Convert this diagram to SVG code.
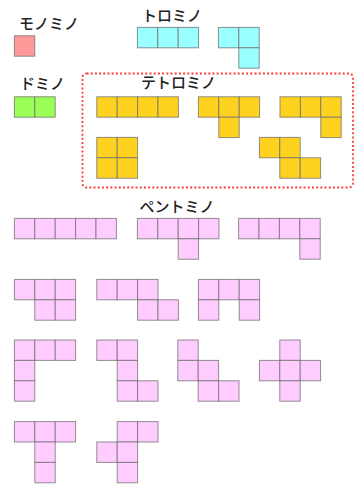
<svg xmlns="http://www.w3.org/2000/svg" width="363" height="484" viewBox="0 0 363 484">
<style>
.m{fill:#ff9a9a}.d{fill:#99ff55}.t{fill:#99ffff}.q{fill:#ffd21f}.p{fill:#ffccff}
.lb{font-family:"Noto Sans CJK JP","Noto Sans",sans-serif;font-size:15px;font-weight:500;fill:#222;text-anchor:middle}
</style>
<defs>
<rect id="cell" width="20.4" height="20.4" stroke="#6e6e6e" stroke-opacity="0.75" stroke-width="1"/>
</defs>
<rect width="363" height="484" fill="#fff"/>
<g id="labels">
<text class="lb" x="49" y="28.5">モノミノ</text>
<text class="lb" x="42.5" y="89">ドミノ</text>
<text class="lb" x="172" y="20.5">トロミノ</text>
<text class="lb" x="178.5" y="87.5">テトロミノ</text>
<text class="lb" x="177" y="211.5">ペントミノ</text>
</g>
<g id="tetromino-box">
<rect x="82.5" y="73.5" width="270.5" height="114" rx="4" fill="none" stroke="#ff3b3b" stroke-width="1.8" stroke-dasharray="2 2.2"/>
</g>
<g id="monomino" class="m" transform="translate(14.4,35.8)"><use href="#cell"/></g>
<g id="domino" class="d" transform="translate(14.4,96.8)"><use href="#cell"/><use href="#cell" x="20.4"/></g>
<g id="tromino-I" class="t" transform="translate(137.4,27.4)"><use href="#cell"/><use href="#cell" x="20.4"/><use href="#cell" x="40.8"/></g>
<g id="tromino-L" class="t" transform="translate(218.4,27.4)"><use href="#cell"/><use href="#cell" x="20.4"/><use href="#cell" x="20.4" y="20.4"/></g>
<g id="tetromino-I" class="q" transform="translate(96.8,96.8)"><use href="#cell"/><use href="#cell" x="20.4"/><use href="#cell" x="40.8"/><use href="#cell" x="61.2"/></g>
<g id="tetromino-T" class="q" transform="translate(198.4,96.8)"><use href="#cell"/><use href="#cell" x="20.4"/><use href="#cell" x="40.8"/><use href="#cell" x="20.4" y="20.4"/></g>
<g id="tetromino-L" class="q" transform="translate(280,96.8)"><use href="#cell"/><use href="#cell" x="20.4"/><use href="#cell" x="40.8"/><use href="#cell" x="40.8" y="20.4"/></g>
<g id="tetromino-O" class="q" transform="translate(96.8,137.4)"><use href="#cell"/><use href="#cell" x="20.4"/><use href="#cell" y="20.4"/><use href="#cell" x="20.4" y="20.4"/></g>
<g id="tetromino-S" class="q" transform="translate(259.4,137.4)"><use href="#cell"/><use href="#cell" x="20.4"/><use href="#cell" x="20.4" y="20.4"/><use href="#cell" x="40.8" y="20.4"/></g>
<g id="pentomino-I" class="p" transform="translate(14.4,218.4)"><use href="#cell"/><use href="#cell" x="20.4"/><use href="#cell" x="40.8"/><use href="#cell" x="61.2"/><use href="#cell" x="81.6"/></g>
<g id="pentomino-Y" class="p" transform="translate(137.4,218.4)"><use href="#cell"/><use href="#cell" x="20.4"/><use href="#cell" x="40.8"/><use href="#cell" x="61.2"/><use href="#cell" x="40.8" y="20.4"/></g>
<g id="pentomino-L" class="p" transform="translate(238.6,218.4)"><use href="#cell"/><use href="#cell" x="20.4"/><use href="#cell" x="40.8"/><use href="#cell" x="61.2"/><use href="#cell" x="61.2" y="20.4"/></g>
<g id="pentomino-P" class="p" transform="translate(14.4,279.4)"><use href="#cell"/><use href="#cell" x="20.4"/><use href="#cell" x="40.8"/><use href="#cell" x="20.4" y="20.4"/><use href="#cell" x="40.8" y="20.4"/></g>
<g id="pentomino-N" class="p" transform="translate(96.8,279.4)"><use href="#cell"/><use href="#cell" x="20.4"/><use href="#cell" x="40.8"/><use href="#cell" x="40.8" y="20.4"/><use href="#cell" x="61.2" y="20.4"/></g>
<g id="pentomino-U" class="p" transform="translate(198.4,279.4)"><use href="#cell"/><use href="#cell" x="20.4"/><use href="#cell" x="40.8"/><use href="#cell" y="20.4"/><use href="#cell" x="40.8" y="20.4"/></g>
<g id="pentomino-V" class="p" transform="translate(14.4,340)"><use href="#cell"/><use href="#cell" x="20.4"/><use href="#cell" x="40.8"/><use href="#cell" y="20.4"/><use href="#cell" y="40.8"/></g>
<g id="pentomino-Z" class="p" transform="translate(96.8,340)"><use href="#cell"/><use href="#cell" x="20.4"/><use href="#cell" x="20.4" y="20.4"/><use href="#cell" x="20.4" y="40.8"/><use href="#cell" x="40.8" y="40.8"/></g>
<g id="pentomino-W" class="p" transform="translate(177.8,340)"><use href="#cell"/><use href="#cell" y="20.4"/><use href="#cell" x="20.4" y="20.4"/><use href="#cell" x="20.4" y="40.8"/><use href="#cell" x="40.8" y="40.8"/></g>
<g id="pentomino-X" class="p" transform="translate(259.4,340)"><use href="#cell" x="20.4"/><use href="#cell" y="20.4"/><use href="#cell" x="20.4" y="20.4"/><use href="#cell" x="40.8" y="20.4"/><use href="#cell" x="20.4" y="40.8"/></g>
<g id="pentomino-T" class="p" transform="translate(14.4,421.6)"><use href="#cell"/><use href="#cell" x="20.4"/><use href="#cell" x="40.8"/><use href="#cell" x="20.4" y="20.4"/><use href="#cell" x="20.4" y="40.8"/></g>
<g id="pentomino-F" class="p" transform="translate(96.8,421.6)"><use href="#cell" x="20.4"/><use href="#cell" x="40.8"/><use href="#cell" y="20.4"/><use href="#cell" x="20.4" y="20.4"/><use href="#cell" x="20.4" y="40.8"/></g>
</svg>
